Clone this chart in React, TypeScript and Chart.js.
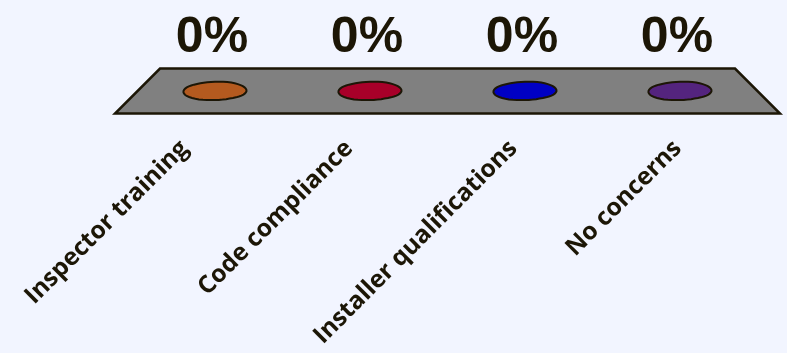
import React, { useEffect, useRef } from "react";
import { Chart, registerables } from "chart.js";

Chart.register(...registerables);

const categories = ["Inspector training", "Code compliance", "Installer qualifications", "No concerns"];
const values = [0, 0, 0, 0];
const barColors = ["#B45A1F", "#A80029", "#0000C4", "#54247E"];

const BG = "#F2F5FF";
const INK = "#1C1606";

// irregular blob outline (radius multipliers around the ellipse)
const blobShape = [1.0, 0.97, 0.92, 0.95, 1.02, 1.04, 1.0, 0.96, 0.93, 0.98, 1.03, 1.02];

const floorPlugin = {
  id: "floor3d",
  beforeDatasetsDraw(chart: any) {
    const { ctx, chartArea } = chart;
    const y0 = chart.scales.y.getPixelForValue(0);
    const d = 22.5;
    ctx.save();
    ctx.beginPath();
    ctx.moveTo(chartArea.left + d, y0 - d);
    ctx.lineTo(chartArea.right - d, y0 - d);
    ctx.lineTo(chartArea.right + d, y0 + d);
    ctx.lineTo(chartArea.left - d, y0 + d);
    ctx.closePath();
    ctx.fillStyle = "#808080";
    ctx.fill();
    ctx.lineWidth = 2.5;
    ctx.strokeStyle = INK;
    ctx.lineJoin = "miter";
    ctx.stroke();
    ctx.restore();
  },
  afterDatasetsDraw(chart: any) {
    const { ctx } = chart;
    const meta = chart.getDatasetMeta(0);
    const xs = chart.scales.x;
    const ys = chart.scales.y;
    const mid = (chart.chartArea.left + chart.chartArea.right) / 2;
    ctx.save();
    meta.data.forEach((el: any, i: number) => {
      const cx = el.x;
      const cy = ys.getPixelForValue(values[i]);
      // blob
      const rx = 31.5;
      const ry = 9.5;
      const n = blobShape.length;
      ctx.beginPath();
      for (let k = 0; k <= n * 4; k++) {
        const t = (k / (n * 4)) * Math.PI * 2;
        const f = k / 4;
        const a = Math.floor(f) % n;
        const b = (a + 1) % n;
        const fr = f - Math.floor(f);
        const m = blobShape[a] * (1 - fr) + blobShape[b] * fr;
        const px = cx + Math.cos(t) * rx * m;
        const py = cy + Math.sin(t) * ry * m;
        if (k === 0) ctx.moveTo(px, py);
        else ctx.lineTo(px, py);
      }
      ctx.closePath();
      ctx.fillStyle = barColors[i];
      ctx.fill();
      ctx.lineWidth = 2;
      ctx.strokeStyle = INK;
      ctx.stroke();

      // value label
      ctx.fillStyle = INK;
      ctx.font = "bold 50px 'Liberation Sans', Arial, sans-serif";
      ctx.textAlign = "center";
      ctx.textBaseline = "alphabetic";
      ctx.fillText(values[i] + "%", cx - 3, cy - 39);

      // category label
      const xc = xs.getPixelForValue(i);
      const ex = xc + 0.06 * (xc - mid) - 25;
      const ey = cy + 45;
      ctx.save();
      ctx.translate(ex, ey);
      ctx.rotate(-Math.PI / 4);
      ctx.font = "bold 24.5px 'Open Sans', sans-serif";
      ctx.textAlign = "right";
      ctx.textBaseline = "top";
      ctx.fillStyle = INK;
      ctx.fillText(categories[i], 0, 0);
      ctx.restore();
    });
    ctx.restore();
  },
};

export default function App() {
  const ref = useRef<HTMLCanvasElement>(null);
  useEffect(() => {
    document.body.style.margin = "0";
    document.body.style.background = BG;
    const chart = new Chart(ref.current!, {
      type: "bar",
      data: {
        labels: categories,
        datasets: [{ data: values, backgroundColor: barColors, borderWidth: 0 }],
      },
      options: {
        animation: false,
        responsive: false,
        maintainAspectRatio: false,
        layout: { padding: { left: 137.5, right: 29.5, top: 60, bottom: 262 } },
        plugins: { legend: { display: false }, tooltip: { enabled: false } },
        scales: {
          x: { display: false },
          y: { display: false, min: 0, max: 100 },
        },
      },
      plugins: [floorPlugin],
    });
    return () => chart.destroy();
  }, []);
  return (
    <div style={{ position: "absolute", left: 0, top: 0, width: 787, height: 353, background: BG }}>
      <canvas ref={ref} width={787} height={353} style={{ display: "block" }} />
    </div>
  );
}
